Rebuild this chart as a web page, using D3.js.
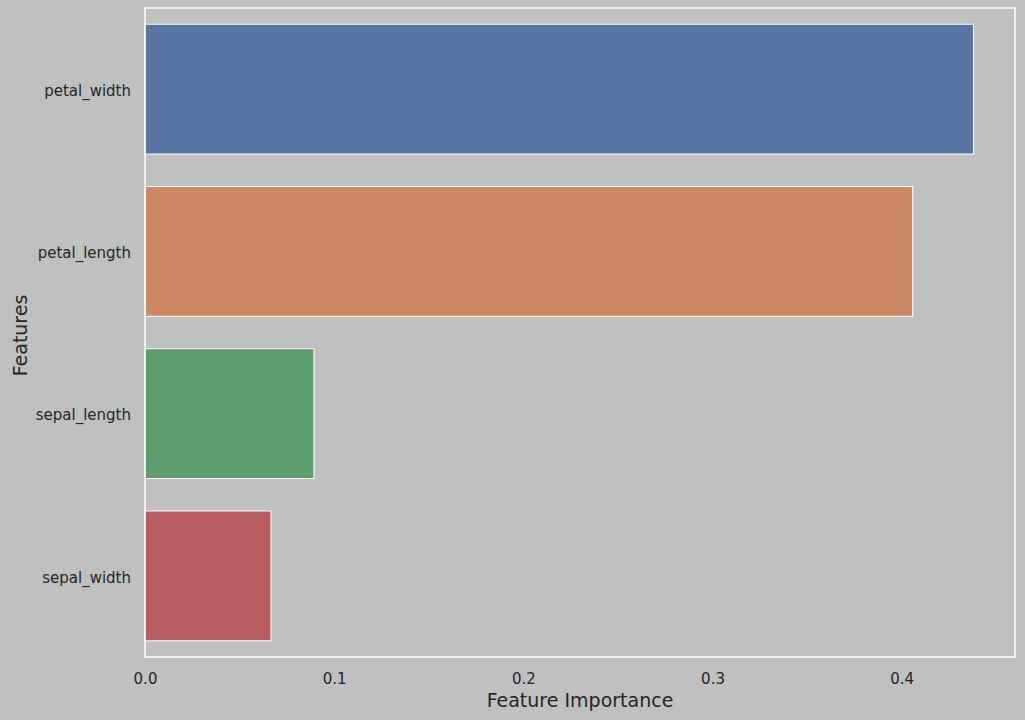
<!DOCTYPE html>
<html>
<head>
<meta charset="utf-8">
<script src="https://cdn.jsdelivr.net/npm/d3@7"></script>
<style>
  body { margin: 0; background: #c0c0c0; }
  text { font-family: "DejaVu Sans", sans-serif; fill: #262626; }
</style>
</head>
<body>
<svg id="chart" width="1025" height="720"></svg>
<script>
// feature importances
var features = ["petal_width", "petal_length", "sepal_length", "sepal_width"];
var importance = [0.438, 0.4058, 0.0893, 0.0666];
var barColors = ["#5875a4", "#cc8963", "#5f9e6e", "#b55d60"];
var xTicks = [0.0, 0.1, 0.2, 0.3, 0.4];

var svg = d3.select("#chart");
var margin = {top: 8, right: 10, bottom: 63, left: 145};
var width = +svg.attr("width") - margin.left - margin.right;
var height = +svg.attr("height") - margin.top - margin.bottom;

svg.append("rect")
  .attr("width", 1025).attr("height", 720)
  .attr("fill", "#c0c0c0");

var g = svg.append("g")
  .attr("transform", "translate(" + margin.left + "," + margin.top + ")");

var x = d3.scaleLinear().domain([0, d3.max(importance) * 1.05]).range([0, width]);
// same spacing as matplotlib categories: bar 0.8 wide, 0.5 margin at each end
var y = d3.scaleBand().domain(features).range([0, height])
  .paddingInner(0.2).paddingOuter(0.1);

// bars
g.selectAll(".bar")
  .data(features)
  .enter()
  .append("rect")
    .attr("class", "bar")
    .attr("x", x(0))
    .attr("y", function(d) { return y(d); })
    .attr("width", function(d, i) { return x(importance[i]) - x(0); })
    .attr("height", y.bandwidth())
    .attr("fill", function(d, i) { return barColors[i]; })
    .attr("stroke", "#ffffff")
    .attr("stroke-width", 1);

// x axis
var xAxis = g.append("g")
  .attr("transform", "translate(0," + height + ")")
  .call(d3.axisBottom(x).tickValues(xTicks).tickFormat(d3.format(".1f")).tickSize(0).tickPadding(16));
xAxis.select(".domain").remove();
xAxis.selectAll("text").style("font-size", "15px").attr("fill", "#262626");

// y axis
var yAxis = g.append("g")
  .call(d3.axisLeft(y).tickSize(0).tickPadding(14));
yAxis.select(".domain").remove();
yAxis.selectAll("text").style("font-size", "15px").attr("fill", "#262626")
  .attr("dy", "0.45em");

// white frame round the axes
g.append("rect")
  .attr("width", width).attr("height", height)
  .attr("fill", "none")
  .attr("stroke", "#ffffff")
  .attr("stroke-width", 1.5);

// axis labels
svg.append("text")
  .attr("x", margin.left + width / 2)
  .attr("y", 707)
  .attr("text-anchor", "middle")
  .style("font-size", "19px")
  .text("Feature Importance");

svg.append("text")
  .attr("transform", "translate(27," + (margin.top + height / 2 + 3) + ") rotate(-90)")
  .attr("text-anchor", "middle")
  .style("font-size", "19px")
  .text("Features");
</script>
</body>
</html>
